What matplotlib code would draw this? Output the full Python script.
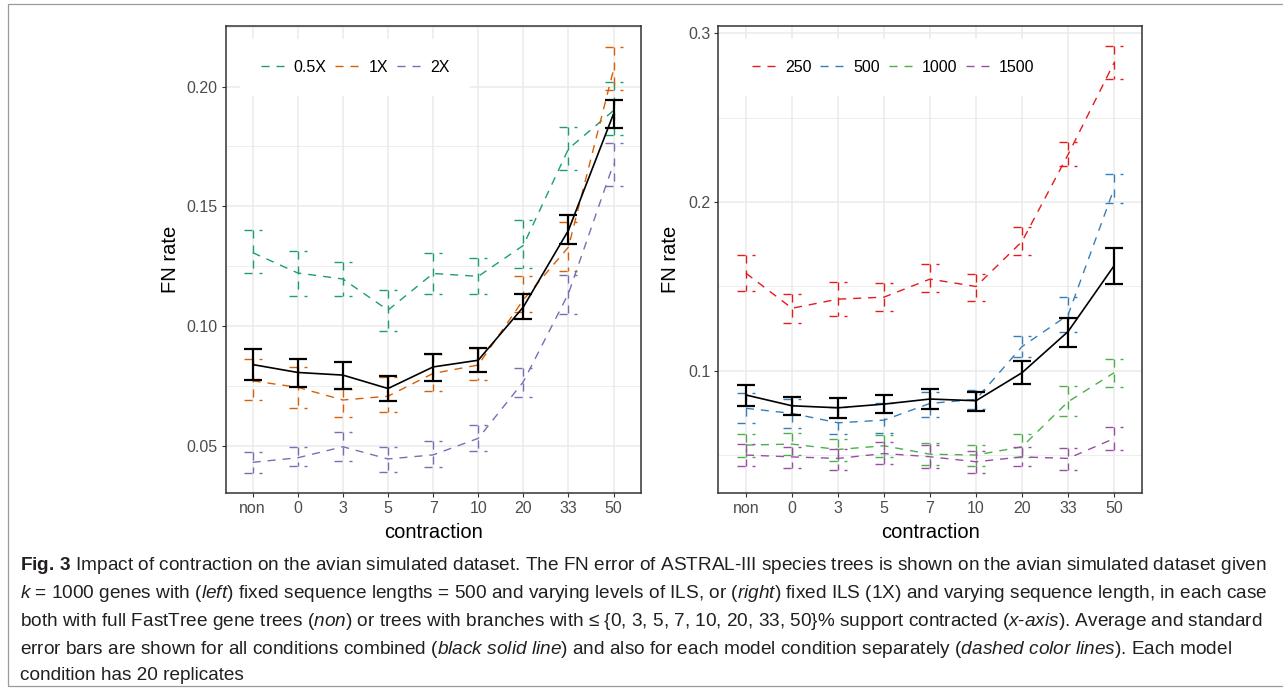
import matplotlib
matplotlib.use("Agg")
import matplotlib.pyplot as plt
from matplotlib import font_manager
from matplotlib.font_manager import FontProperties
from matplotlib.lines import Line2D
from matplotlib.patches import Rectangle

# ---------------- data ----------------
categories = ['non', '0', '3', '5', '7', '10', '20', '33', '50']

# left panel: ILS levels
ils_labels = ['0.5X', '1X', '2X']
ils_colors = ['#1B9E77', '#D95F02', '#7570B3']
ils_mean_05 = [0.1307, 0.1222, 0.1197, 0.1067, 0.1220, 0.1208, 0.1337, 0.1740, 0.1900]
ils_lo_05   = [0.1220, 0.1126, 0.1126, 0.0980, 0.1135, 0.1135, 0.1242, 0.1653, 0.1799]
ils_hi_05   = [0.1400, 0.1313, 0.1270, 0.1150, 0.1307, 0.1283, 0.1442, 0.1830, 0.2020]
ils_mean_1  = [0.0772, 0.0745, 0.0692, 0.0708, 0.0803, 0.0838, 0.1110, 0.1330, 0.2070]
ils_lo_1    = [0.0692, 0.0660, 0.0622, 0.0640, 0.0730, 0.0775, 0.1059, 0.1229, 0.1986]
ils_hi_1    = [0.0862, 0.0830, 0.0736, 0.0789, 0.0883, 0.0907, 0.1210, 0.1435, 0.2164]
ils_mean_2  = [0.0432, 0.0451, 0.0497, 0.0446, 0.0463, 0.0532, 0.0768, 0.1136, 0.1678]
ils_lo_2    = [0.0389, 0.0418, 0.0439, 0.0393, 0.0411, 0.0479, 0.0706, 0.1053, 0.1585]
ils_hi_2    = [0.0476, 0.0494, 0.0560, 0.0494, 0.0522, 0.0588, 0.0826, 0.1213, 0.1764]
left_all_mean = [0.0840, 0.0807, 0.0796, 0.0740, 0.0830, 0.0858, 0.1080, 0.1400, 0.1886]
left_all_lo   = [0.0775, 0.0747, 0.0740, 0.0689, 0.0772, 0.0807, 0.1028, 0.1342, 0.1826]
left_all_hi   = [0.0903, 0.0865, 0.0849, 0.0792, 0.0886, 0.0910, 0.1133, 0.1462, 0.1944]

# right panel: sequence lengths
len_labels = ['250', '500', '1000', '1500']
len_colors = ['#E41A1C', '#377EB8', '#4DAF4A', '#984EA3']
len_mean_250  = [0.1578, 0.1370, 0.1424, 0.1436, 0.1543, 0.1499, 0.1766, 0.2281, 0.2825]
len_lo_250    = [0.1475, 0.1281, 0.1325, 0.1355, 0.1466, 0.1414, 0.1687, 0.2211, 0.2732]
len_hi_250    = [0.1683, 0.1454, 0.1523, 0.1517, 0.1632, 0.1572, 0.1852, 0.2356, 0.2924]
len_mean_500  = [0.0777, 0.0747, 0.0691, 0.0707, 0.0806, 0.0830, 0.1143, 0.1330, 0.2080]
len_lo_500    = [0.0691, 0.0658, 0.0624, 0.0632, 0.0727, 0.0771, 0.1080, 0.1232, 0.1994]
len_hi_500    = [0.0866, 0.0830, 0.0786, 0.0806, 0.0875, 0.0888, 0.1206, 0.1437, 0.2168]
len_mean_1000 = [0.0559, 0.0565, 0.0533, 0.0555, 0.0505, 0.0500, 0.0549, 0.0816, 0.0988]
len_lo_1000   = [0.0489, 0.0500, 0.0466, 0.0490, 0.0440, 0.0434, 0.0489, 0.0731, 0.0905]
len_hi_1000   = [0.0624, 0.0630, 0.0594, 0.0620, 0.0572, 0.0559, 0.0622, 0.0911, 0.1071]
len_mean_1500 = [0.0500, 0.0489, 0.0480, 0.0509, 0.0490, 0.0460, 0.0489, 0.0480, 0.0598]
len_lo_1500   = [0.0434, 0.0424, 0.0410, 0.0446, 0.0424, 0.0394, 0.0436, 0.0414, 0.0529]
len_hi_1500   = [0.0565, 0.0549, 0.0535, 0.0575, 0.0559, 0.0525, 0.0549, 0.0543, 0.0667]
right_all_mean = [0.0856, 0.0792, 0.0780, 0.0802, 0.0832, 0.0822, 0.0988, 0.1232, 0.1622]
right_all_lo   = [0.0792, 0.0737, 0.0721, 0.0747, 0.0773, 0.0762, 0.0921, 0.1143, 0.1515]
right_all_hi   = [0.0915, 0.0846, 0.0836, 0.0856, 0.0891, 0.0875, 0.1058, 0.1315, 0.1730]

left_yticks = [0.05, 0.10, 0.15, 0.20]
left_yticklabels = ['0.05', '0.10', '0.15', '0.20']
right_yticks = [0.1, 0.2, 0.3]
right_yticklabels = ['0.1', '0.2', '0.3']

caption_lines = [
    r"$\mathbf{Fig.\,3}$ Impact of contraction on the avian simulated dataset. The FN error of ASTRAL-III species trees is shown on the avian simulated dataset given",
    r"$k$ = 1000 genes with ($\mathit{left}$) fixed sequence lengths = 500 and varying levels of ILS, or ($\mathit{right}$) fixed ILS (1X) and varying sequence length, in each case",
    r"both with full FastTree gene trees ($\mathit{non}$) or trees with branches with ≤ {0, 3, 5, 7, 10, 20, 33, 50}% support contracted ($\mathit{x\text{-}axis}$). Average and standard",
    r"error bars are shown for all conditions combined ($\mathit{black\ solid\ line}$) and also for each model condition separately ($\mathit{dashed\ color\ lines}$). Each model",
    r"condition has 20 replicates",
]

# ---------------- fonts ----------------
def has_font(name):
    try:
        font_manager.findfont(FontProperties(family=name), fallback_to_default=False)
        return True
    except Exception:
        return False

main_font = 'Liberation Sans' if has_font('Liberation Sans') else 'DejaVu Sans'
cap_font = 'Liberation Sans Narrow' if has_font('Liberation Sans Narrow') else main_font
plt.rcParams['font.family'] = [main_font, 'DejaVu Sans']
plt.rcParams['mathtext.fontset'] = 'custom'
plt.rcParams['mathtext.rm'] = cap_font
plt.rcParams['mathtext.it'] = cap_font + ':italic'
plt.rcParams['mathtext.bf'] = cap_font + ':bold'

W, H = 1283, 696
fig = plt.figure(figsize=(W / 100, H / 100), dpi=100)
fig.patch.set_facecolor('white')

def px_box(x0, y0, x1, y1):
    return [x0 / W, 1 - y1 / H, (x1 - x0) / W, (y1 - y0) / H]

axL = fig.add_axes(px_box(225.6, 25.7, 640.6, 493))
axR = fig.add_axes(px_box(718.3, 25.7, 1141.7, 493))

GRID = '#EBEBEB'
DASH = (0, (5.8, 5.0))
CAPW = 0.2
xs = list(range(len(categories)))

def draw_series(ax, mean, lo, hi, color, dashed=True, lw=1.0, elw=1.0):
    ls = DASH if dashed else '-'
    ax.plot(xs, mean, color=color, lw=lw, linestyle=ls, zorder=3 if dashed else 5,
            dash_capstyle='butt', solid_capstyle='butt')
    for x, l, h in zip(xs, lo, hi):
        for seg in (([x - CAPW, x + CAPW], [h, h]), ([x, x], [h, l]), ([x - CAPW, x + CAPW], [l, l])):
            ax.plot(seg[0], seg[1], color=color, lw=elw, linestyle=ls,
                    zorder=3 if dashed else 5, dash_capstyle='butt', solid_capstyle='butt')

def style_axes(ax, ylim, yticks, yticklabels, minor):
    ax.set_xlim(-0.6, len(categories) - 0.4)
    ax.set_ylim(*ylim)
    ax.set_xticks(xs)
    ax.set_xticklabels(categories)
    ax.set_yticks(yticks)
    ax.set_yticklabels(yticklabels)
    for v in minor:
        ax.axhline(v, color=GRID, lw=0.6, zorder=0)
    for v in yticks:
        ax.axhline(v, color=GRID, lw=1.1, zorder=0)
    for x in xs:
        ax.axvline(x, color=GRID, lw=1.1, zorder=0)
    for s in ax.spines.values():
        s.set_color('#333333')
        s.set_linewidth(1.1)
        s.set_zorder(6)
    ax.tick_params(axis='both', colors='#333333', length=3.2, width=0.8,
                   labelsize=11.5, labelcolor='#4D4D4D', pad=2.5)
    ax.set_xlabel('contraction', fontsize=14.5, color='black')
    ax.set_ylabel('FN rate', fontsize=14.5, color='black')
    ax.xaxis.label.set_va('center')
    ax.yaxis.label.set_va('center')

# left panel
style_axes(axL, (0.0304, 0.2254), left_yticks, left_yticklabels, [0.075, 0.125, 0.175, 0.225])
left_series = [(ils_mean_05, ils_lo_05, ils_hi_05), (ils_mean_1, ils_lo_1, ils_hi_1),
               (ils_mean_2, ils_lo_2, ils_hi_2)]
for (m, l, h), c in zip(left_series, ils_colors):
    draw_series(axL, m, l, h, c)
draw_series(axL, left_all_mean, left_all_lo, left_all_hi, 'black', dashed=False, lw=1.2, elw=1.6)

# right panel
style_axes(axR, (0.0275, 0.3045), right_yticks, right_yticklabels, [0.05, 0.15, 0.25])
right_series = [(len_mean_250, len_lo_250, len_hi_250), (len_mean_500, len_lo_500, len_hi_500),
                (len_mean_1000, len_lo_1000, len_hi_1000), (len_mean_1500, len_lo_1500, len_hi_1500)]
for (m, l, h), c in zip(right_series, len_colors):
    draw_series(axR, m, l, h, c)
draw_series(axR, right_all_mean, right_all_lo, right_all_hi, 'black', dashed=False, lw=1.2, elw=1.6)

axL.yaxis.set_label_coords((170 - 225.6) / 415.0, 0.5)
axR.yaxis.set_label_coords((670 - 718.3) / 423.4, 0.5)
axL.xaxis.set_label_coords(0.5, (493 - 533) / 467.3)
axR.xaxis.set_label_coords(0.5, (493 - 533) / 467.3)

def add_legend(ax, labels, colors, x_px_left, ax_left_px, ax_w_px):
    handles = [Line2D([0], [0], color=c, lw=1.0, linestyle=DASH) for c in colors]
    leg = ax.legend(handles, labels, loc='center left', ncol=len(labels),
                    bbox_to_anchor=((x_px_left - ax_left_px) / ax_w_px, (493 - 67.5) / 467.3),
                    borderaxespad=0, frameon=True, fontsize=11.5, handlelength=1.45,
                    handletextpad=0.62, columnspacing=0.55, borderpad=1.3)
    fr = leg.get_frame()
    fr.set_facecolor('white')
    fr.set_edgecolor('none')
    fr.set_alpha(1)
    fr.set_boxstyle('square', pad=0)
    leg.set_zorder(7)
    return leg

add_legend(axL, ils_labels, ils_colors, 240, 225.6, 415.0)
add_legend(axR, len_labels, len_colors, 731, 718.3, 423.4)

# caption frame
fig.add_artist(Rectangle((8 / W, 1 - 686 / H), 1.2, (686 - 4) / H, transform=fig.transFigure,
                         fill=False, edgecolor='#9a9a9a', lw=0.9))

# caption text
line_y = [566, 594, 621, 649, 676]
cap_color = '#231F20'
texts = []
for s, y in zip(caption_lines, line_y):
    t = fig.text(20 / W, 1 - y / H, s, fontsize=12.5, family=[cap_font, 'DejaVu Sans'],
                 color=cap_color, ha='left', va='center')
    texts.append(t)
renderer = fig.canvas.get_renderer()
w1 = texts[0].get_window_extent(renderer).width
scale = 1245.0 / w1
for t in texts:
    t.set_fontsize(12.5 * scale)

fig.savefig('out.png', dpi=100, facecolor='white')
